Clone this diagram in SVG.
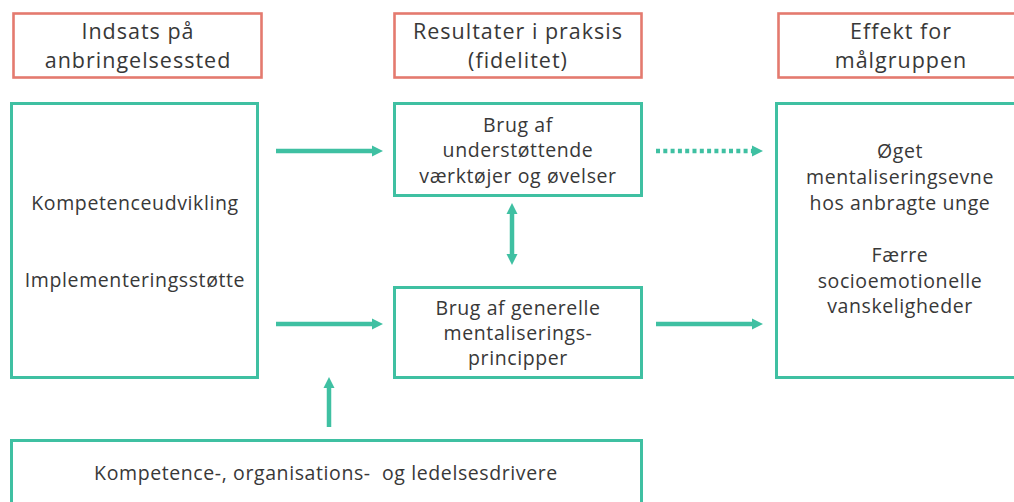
<svg xmlns="http://www.w3.org/2000/svg" width="1014" height="502" viewBox="0 0 1014 502">
<defs>
<style>
.hdr{fill:#fff;stroke:#E47A6F;stroke-width:2.6}
.box{fill:#fff;stroke:#3FC0A2;stroke-width:3}
.ht{font-family:"Open Sans",sans-serif;font-size:21.5px;letter-spacing:1px;fill:#383838;text-anchor:middle}
.bt{font-family:"Open Sans",sans-serif;font-size:19.5px;letter-spacing:0.6px;fill:#383838;text-anchor:middle}
.con{stroke:#3FC0A2;stroke-width:4.5;fill:none}
</style>
<marker id="ah" markerUnits="userSpaceOnUse" markerWidth="12" markerHeight="12" refX="1" refY="6" orient="auto-start-reverse">
<path d="M0,0.5 L11,6 L0,11.5 z" fill="#3FC0A2"/>
</marker>
</defs>
<rect width="1014" height="502" fill="#fff"/>

<g id="h1">
<rect class="hdr" x="13.5" y="13.5" width="248" height="64"/>
<text class="ht" x="138" y="39">Indsats på</text>
<text class="ht" x="138" y="68">anbringelsessted</text>
</g>
<g id="h2">
<rect class="hdr" x="394.5" y="13.5" width="247" height="64"/>
<text class="ht" x="518" y="39">Resultater i praksis</text>
<text class="ht" x="518" y="68">(fidelitet)</text>
</g>
<g id="h3">
<rect class="hdr" x="778.5" y="13.5" width="246" height="64"/>
<text class="ht" x="901" y="39">Effekt for</text>
<text class="ht" x="901" y="68">målgruppen</text>
</g>

<g id="n-indsats">
<rect class="box" x="11.5" y="103.5" width="246" height="274"/>
<text class="bt" x="135" y="210">Kompetenceudvikling</text>
<text class="bt" x="135" y="287">Implementeringsstøtte</text>
</g>
<g id="n-vaerktoejer">
<rect class="box" x="394.5" y="103.5" width="247" height="92"/>
<text class="bt" x="518" y="132">Brug af</text>
<text class="bt" x="518" y="157">understøttende</text>
<text class="bt" x="518" y="183">værktøjer og øvelser</text>
</g>
<g id="n-principper">
<rect class="box" x="394.5" y="287.5" width="247" height="90"/>
<text class="bt" x="518" y="315">Brug af generelle</text>
<text class="bt" x="518" y="340">mentaliserings-</text>
<text class="bt" x="518" y="365">principper</text>
</g>
<g id="n-effekt">
<rect class="box" x="776.5" y="103.5" width="250" height="274"/>
<text class="bt" x="900" y="158">Øget</text>
<text class="bt" x="900" y="184">mentaliseringsevne</text>
<text class="bt" x="900" y="210">hos anbragte unge</text>
<text class="bt" x="900" y="262">Færre</text>
<text class="bt" x="900" y="288">socioemotionelle</text>
<text class="bt" x="900" y="313">vanskeligheder</text>
</g>
<g id="n-drivere">
<rect class="box" x="11.5" y="440.5" width="630" height="80"/>
<text class="bt" x="326" y="480" xml:space="preserve">Kompetence-, organisations-  og ledelsesdrivere</text>
</g>

<g id="connectors">
<line class="con" x1="276" y1="151" x2="373" y2="151" marker-end="url(#ah)"/>
<line class="con" x1="276" y1="324" x2="373" y2="324" marker-end="url(#ah)"/>
<line class="con" x1="656" y1="151" x2="753" y2="151" stroke-dasharray="4 3.3" marker-end="url(#ah)"/>
<line class="con" x1="656" y1="324" x2="753" y2="324" marker-end="url(#ah)"/>
<line class="con" x1="512" y1="213" x2="512" y2="255" marker-start="url(#ah)" marker-end="url(#ah)"/>
<line class="con" x1="329" y1="427" x2="329" y2="387" marker-end="url(#ah)"/>
</g>
</svg>
